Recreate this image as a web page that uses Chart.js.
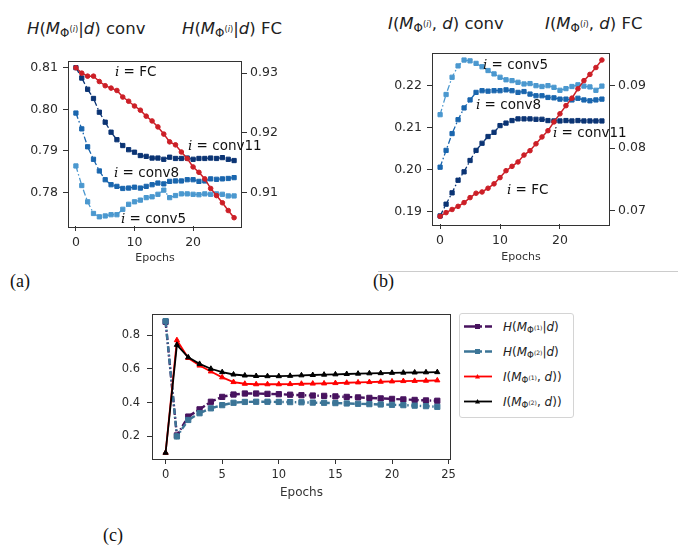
<!DOCTYPE html>
<html lang="en">
<head>
<meta charset="UTF-8">
<title>Entropy and mutual information over epochs</title>
<script src="https://cdn.jsdelivr.net/npm/chart.js"></script>
<style>
    body { margin: 0; background: #fff; font-family: 'DejaVu Sans', sans-serif; color: #222; }
    .page { position: relative; width: 685px; height: 548px; overflow: hidden; }
    canvas { position: absolute; }
    .txt { position: absolute; white-space: nowrap; line-height: 1; }
    .title { font-size: 16.5px; color: #222; }
    .note { font-size: 13.5px; color: #111; }
    .note .m { font-family: 'DejaVu Serif', serif; font-style: italic; }
    .sub { font-size: 0.72em; vertical-align: -0.25em; }
    .sup { font-size: 0.7em; vertical-align: 0.55em; }
    .tag { position: absolute; font-family: 'Liberation Serif', serif; font-size: 18px; line-height: 1; color: #111; }
    .rule { position: absolute; left: 378px; top: 271px; width: 300px; height: 1px; background: #ccc; }
    .legend { position: absolute; left: 459px; top: 313px; width: 113px; height: 103px; border: 1px solid #d4d4d4; border-radius: 3px; background: #fff; }
    .legend .row { position: absolute; left: 3px; height: 14px; font-size: 12px; color: #222; }
    .legend svg { position: absolute; left: 0; top: 2px; }
    .legend span.lab { position: absolute; left: 40px; top: 0; white-space: nowrap; }
</style>
</head>
<body>
<div class="page">
    <!-- panel (a) -->
    <div class="txt title" style="left:27px; top:21px;"><i>H</i>(<i>M</i><span class="sub">Φ<span class="sup">(<i>i</i>)</span></span>|<i>d</i>) conv</div>
    <div class="txt title" style="left:182px; top:21px;"><i>H</i>(<i>M</i><span class="sub">Φ<span class="sup">(<i>i</i>)</span></span>|<i>d</i>) FC</div>
    <canvas id="chartA" width="265" height="222" style="left:20px; top:48px;"></canvas>
    <div class="txt note" style="left:115px; top:65px;"><span class="m">i</span> = FC</div>
    <div class="txt note" style="left:188px; top:139px;"><span class="m">i</span> = conv11</div>
    <div class="txt note" style="left:114px; top:166px;"><span class="m">i</span> = conv8</div>
    <div class="txt note" style="left:121px; top:212px;"><span class="m">i</span> = conv5</div>
    <div class="tag" style="left:10px; top:272px;">(a)</div>

    <!-- panel (b) -->
    <div class="txt title" style="left:388px; top:16px;"><i>I</i>(<i>M</i><span class="sub">Φ<span class="sup">(<i>i</i>)</span></span>, <i>d</i>) conv</div>
    <div class="txt title" style="left:545px; top:16px;"><i>I</i>(<i>M</i><span class="sub">Φ<span class="sup">(<i>i</i>)</span></span>, <i>d</i>) FC</div>
    <canvas id="chartB" width="270" height="230" style="left:380px; top:40px;"></canvas>
    <div class="txt note" style="left:483px; top:58px;"><span class="m">i</span> = conv5</div>
    <div class="txt note" style="left:476px; top:98px;"><span class="m">i</span> = conv8</div>
    <div class="txt note" style="left:553px; top:126px;"><span class="m">i</span> = conv11</div>
    <div class="txt note" style="left:507px; top:183px;"><span class="m">i</span> = FC</div>
    <div class="rule"></div>
    <div class="tag" style="left:373px; top:272px;">(b)</div>

    <!-- panel (c) -->
    <canvas id="chartC" width="360" height="205" style="left:100px; top:300px;"></canvas>
    <div class="legend" id="legendC"></div>
    <div class="tag" style="left:103px; top:526px;">(c)</div>
</div>

<script>
    // ---- data: panel (a), entropy H(M|d) ----
    const epochsAB = [0, 1, 2, 3, 4, 5, 6, 7, 8, 9, 10, 11, 12, 13, 14, 15, 16, 17, 18, 19, 20, 21, 22, 23, 24, 25, 26, 27];
    const hFC     = [0.9309, 0.9300, 0.9295, 0.9295, 0.9286, 0.9279, 0.9275, 0.9271, 0.9260, 0.9253, 0.9245, 0.9238, 0.9228, 0.9220, 0.9210, 0.9198, 0.9185, 0.9180, 0.9168, 0.9157, 0.9143, 0.9134, 0.9123, 0.9107, 0.9095, 0.9083, 0.9070, 0.9058];
    const hConv11 = [0.8100, 0.8075, 0.8048, 0.8026, 0.7993, 0.7969, 0.7945, 0.7927, 0.7913, 0.7903, 0.7897, 0.7889, 0.7887, 0.7883, 0.7883, 0.7880, 0.7885, 0.7882, 0.7882, 0.7883, 0.7880, 0.7882, 0.7882, 0.7883, 0.7882, 0.7884, 0.7880, 0.7877];
    const hConv8  = [0.7991, 0.7953, 0.7910, 0.7880, 0.7852, 0.7831, 0.7819, 0.7815, 0.7810, 0.7811, 0.7813, 0.7811, 0.7815, 0.7819, 0.7823, 0.7821, 0.7827, 0.7828, 0.7828, 0.7831, 0.7831, 0.7827, 0.7828, 0.7833, 0.7832, 0.7833, 0.7834, 0.7836];
    const hConv5  = [0.7864, 0.7817, 0.7778, 0.7750, 0.7742, 0.7744, 0.7747, 0.7747, 0.7760, 0.7772, 0.7778, 0.7782, 0.7788, 0.7790, 0.7796, 0.7806, 0.7788, 0.7793, 0.7797, 0.7797, 0.7796, 0.7795, 0.7797, 0.7796, 0.7797, 0.7796, 0.7792, 0.7792];

    // ---- data: panel (b), mutual information I(M,d) ----
    const iFC     = [0.0691, 0.0697, 0.0702, 0.0707, 0.0713, 0.0721, 0.0728, 0.0730, 0.0736, 0.0743, 0.0753, 0.0764, 0.0771, 0.0778, 0.0789, 0.0796, 0.0807, 0.0818, 0.0828, 0.0842, 0.0855, 0.0868, 0.0880, 0.0895, 0.0908, 0.0918, 0.0929, 0.0941];
    const iConv5  = [0.2131, 0.2179, 0.2220, 0.2247, 0.2261, 0.2259, 0.2253, 0.2245, 0.2236, 0.2228, 0.2220, 0.2214, 0.2212, 0.2208, 0.2204, 0.2205, 0.2200, 0.2198, 0.2200, 0.2196, 0.2189, 0.2193, 0.2198, 0.2202, 0.2199, 0.2197, 0.2189, 0.2199];
    const iConv8  = [0.2006, 0.2046, 0.2086, 0.2119, 0.2147, 0.2166, 0.2184, 0.2188, 0.2187, 0.2188, 0.2188, 0.2190, 0.2188, 0.2184, 0.2186, 0.2180, 0.2176, 0.2176, 0.2172, 0.2171, 0.2168, 0.2168, 0.2166, 0.2170, 0.2166, 0.2164, 0.2166, 0.2168];
    const iConv11 = [0.1890, 0.1918, 0.1945, 0.1975, 0.1995, 0.2022, 0.2046, 0.2063, 0.2079, 0.2089, 0.2105, 0.2111, 0.2117, 0.2121, 0.2121, 0.2121, 0.2120, 0.2120, 0.2117, 0.2116, 0.2116, 0.2117, 0.2116, 0.2117, 0.2116, 0.2116, 0.2116, 0.2116];

    // ---- data: panel (c) ----
    const epochsC = [0, 1, 2, 3, 4, 5, 6, 7, 8, 9, 10, 11, 12, 13, 14, 15, 16, 17, 18, 19, 20, 21, 22, 23, 24];
    const hM1 = [0.880, 0.205, 0.317, 0.360, 0.405, 0.434, 0.448, 0.454, 0.454, 0.452, 0.450, 0.447, 0.444, 0.442, 0.440, 0.437, 0.434, 0.431, 0.428, 0.425, 0.422, 0.419, 0.416, 0.413, 0.411];
    const hM2 = [0.884, 0.199, 0.297, 0.337, 0.366, 0.385, 0.399, 0.404, 0.405, 0.405, 0.404, 0.403, 0.402, 0.400, 0.399, 0.397, 0.395, 0.393, 0.391, 0.389, 0.387, 0.385, 0.382, 0.379, 0.375];
    const iM1 = [0.102, 0.771, 0.665, 0.620, 0.585, 0.550, 0.522, 0.512, 0.509, 0.509, 0.509, 0.510, 0.512, 0.513, 0.514, 0.516, 0.518, 0.520, 0.522, 0.524, 0.526, 0.528, 0.529, 0.530, 0.532];
    const iM2 = [0.102, 0.743, 0.669, 0.630, 0.601, 0.581, 0.567, 0.561, 0.558, 0.557, 0.557, 0.559, 0.562, 0.564, 0.566, 0.568, 0.570, 0.572, 0.574, 0.575, 0.577, 0.578, 0.579, 0.580, 0.581];

    // tick values
    const ticksXAB = [0, 10, 20];
    const ticksHConv = [0.78, 0.79, 0.80, 0.81];
    const ticksHFC = [0.91, 0.92, 0.93];
    const ticksIConv = [0.19, 0.20, 0.21, 0.22];
    const ticksIFC = [0.07, 0.08, 0.09];
    const ticksXC = [0, 5, 10, 15, 20, 25];
    const ticksYC = [0.2, 0.4, 0.6, 0.8];

    const legendC = ['H(MΦ(1)|d)', 'H(MΦ(2)|d)', 'I(MΦ(1), d))', 'I(MΦ(2), d))'];

    // colours
    const red = '#cc1f27';
    const navy = '#0b3474';
    const midBlue = '#1a66ae';
    const lightBlue = '#4b98cf';
    const purple = '#48135f';
    const teal = '#3c7597';

    const dashDot = [6, 2.5, 1.5, 2.5];

    // draws the four spines around the plot area
    const frame = {
        id: 'frame',
        afterDraw(chart) {
            const a = chart.chartArea;
            const ctx = chart.ctx;
            ctx.save();
            ctx.strokeStyle = '#333';
            ctx.lineWidth = 1;
            ctx.strokeRect(Math.round(a.left) + 0.5, Math.round(a.top) + 0.5,
                Math.round(a.right - a.left) - 1, Math.round(a.bottom - a.top));
            ctx.restore();
        }
    };

    function points(xs, ys) {
        return ys.map((v, i) => ({ x: xs[i], y: v }));
    }

    function axis(pos, min, max, tickValues, size, fontSize, pad, digits) {
        return {
            type: 'linear',
            position: pos,
            min: min,
            max: max,
            afterBuildTicks: s => { s.ticks = tickValues.map(v => ({ value: v })); },
            afterFit: s => {
                if (pos === 'bottom') s.height = size;
                else s.width = size;
            },
            grid: { drawOnChartArea: false, drawTicks: true, tickLength: 5, color: '#333', lineWidth: 1 },
            border: { display: false },
            ticks: {
                color: '#2a2a2a',
                padding: pad,
                maxRotation: 0,
                autoSkip: false,
                font: { family: 'DejaVu Sans', size: fontSize },
                callback: v => v.toFixed(digits)
            }
        };
    }

    function line(xs, ys, color, axisId, shape, dashed, width, radius) {
        return {
            data: points(xs, ys),
            yAxisID: axisId,
            borderColor: color,
            backgroundColor: color,
            borderWidth: width,
            borderDash: dashed ? dashDot : [],
            pointStyle: shape,
            pointRadius: radius,
            pointBackgroundColor: color,
            pointBorderColor: color,
            pointBorderWidth: 1,
            tension: 0,
            fill: false
        };
    }

    function xTitle(text, size, padBottom) {
        return { display: true, text: text, color: '#333', font: { family: 'DejaVu Sans', size: size }, padding: { top: 0, bottom: padBottom } };
    }

    const common = {
        animation: false,
        responsive: false,
        devicePixelRatio: 1,
        events: [],
        plugins: { legend: { display: false }, tooltip: { enabled: false } }
    };

    // ---- panel (a) ----
    const xA = axis('bottom', -1.35, 28.35, ticksXAB, 44, 12.5, 4, 0);
    xA.title = xTitle('Epochs', 11, 5);
    new Chart(document.getElementById('chartA'), {
        type: 'line',
        data: {
            datasets: [
                line(epochsAB, hFC, red, 'y2', 'circle', false, 1.5, 2.3),
                line(epochsAB, hConv11, navy, 'y', 'rect', true, 1.3, 3),
                line(epochsAB, hConv8, midBlue, 'y', 'rect', true, 1.3, 3),
                line(epochsAB, hConv5, lightBlue, 'y', 'rect', true, 1.3, 3)
            ]
        },
        options: Object.assign({}, common, {
            layout: { padding: { top: 8, left: 0, right: 0, bottom: 0 } },
            scales: {
                x: xA,
                y: axis('left', 0.77199, 0.81171, ticksHConv, 48, 12.5, 5, 2),
                y2: axis('right', 0.90441, 0.93212, ticksHFC, 43, 12.5, 3, 2)
            }
        }),
        plugins: [frame]
    });

    // ---- panel (b) ----
    const xB = axis('bottom', -1.35, 28.35, ticksXAB, 46, 12.5, 4, 0);
    xB.title = xTitle('Epochs', 11, 6);
    new Chart(document.getElementById('chartB'), {
        type: 'line',
        data: {
            datasets: [
                line(epochsAB, iFC, red, 'y2', 'circle', false, 1.5, 2.3),
                line(epochsAB, iConv5, lightBlue, 'y', 'rect', true, 1.3, 3),
                line(epochsAB, iConv8, midBlue, 'y', 'rect', true, 1.3, 3),
                line(epochsAB, iConv11, navy, 'y', 'rect', true, 1.3, 3)
            ]
        },
        options: Object.assign({}, common, {
            layout: { padding: { top: 12, left: 0, right: 0, bottom: 0 } },
            scales: {
                x: xB,
                y: axis('left', 0.18709, 0.22789, ticksIConv, 52, 12.5, 5, 2),
                y2: axis('right', 0.06788, 0.0953, ticksIFC, 40, 12.5, 3, 2)
            }
        }),
        plugins: [frame]
    });

    // ---- panel (c) ----
    const seriesC = [
        { name: legendC[0], ys: hM1, color: purple, shape: 'rect', dashed: true, width: 2.4, radius: 3.7 },
        { name: legendC[1], ys: hM2, color: teal, shape: 'rect', dashed: true, width: 2.4, radius: 3.7 },
        { name: legendC[2], ys: iM1, color: '#ff0000', shape: 'triangle', dashed: false, width: 1.8, radius: 3 },
        { name: legendC[3], ys: iM2, color: '#000000', shape: 'triangle', dashed: false, width: 1.8, radius: 3 }
    ];
    const xC = axis('bottom', -1.2, 25.2, ticksXC, 46, 11.5, 4, 0);
    xC.title = xTitle('Epochs', 12, 5);
    new Chart(document.getElementById('chartC'), {
        type: 'line',
        data: {
            // reversed so the last series is painted on top, as in the original
            datasets: seriesC.slice().reverse().map(s => line(epochsC, s.ys, s.color, 'y', s.shape, s.dashed, s.width, s.radius))
        },
        options: Object.assign({}, common, {
            layout: { padding: { top: 13, left: 0, right: 8, bottom: 0 } },
            scales: {
                x: xC,
                y: axis('left', 0.065, 0.927, ticksYC, 52, 11.5, 7, 1)
            }
        }),
        plugins: [frame]
    });

    // ---- legend for (c) ----
    const legendBox = document.getElementById('legendC');
    const labelHtml = [
        '<i>H</i>(<i>M</i><span class="sub">Φ<span class="sup">(1)</span></span>|<i>d</i>)',
        '<i>H</i>(<i>M</i><span class="sub">Φ<span class="sup">(2)</span></span>|<i>d</i>)',
        '<i>I</i>(<i>M</i><span class="sub">Φ<span class="sup">(1)</span></span>, <i>d</i>))',
        '<i>I</i>(<i>M</i><span class="sub">Φ<span class="sup">(2)</span></span>, <i>d</i>))'
    ];
    seriesC.forEach((s, i) => {
        const row = document.createElement('div');
        row.className = 'row';
        row.style.top = (6 + i * 25) + 'px';
        const dash = s.dashed ? ' stroke-dasharray="12 3 3 3"' : '';
        let marker;
        if (s.shape === 'rect') {
            marker = `<rect x="12" y="2" width="5" height="5" fill="${s.color}"/>`;
        } else {
            marker = `<polygon points="14.5,2 17,6.5 12,6.5" fill="${s.color}"/>`;
        }
        row.innerHTML = `<svg width="30" height="9"><line x1="1" y1="4.5" x2="29" y2="4.5" stroke="${s.color}" stroke-width="${s.width}"${dash}/>${marker}</svg>` +
            `<span class="lab" title="${s.name}">${labelHtml[i]}</span>`;
        legendBox.appendChild(row);
    });
</script>
</body>
</html>
